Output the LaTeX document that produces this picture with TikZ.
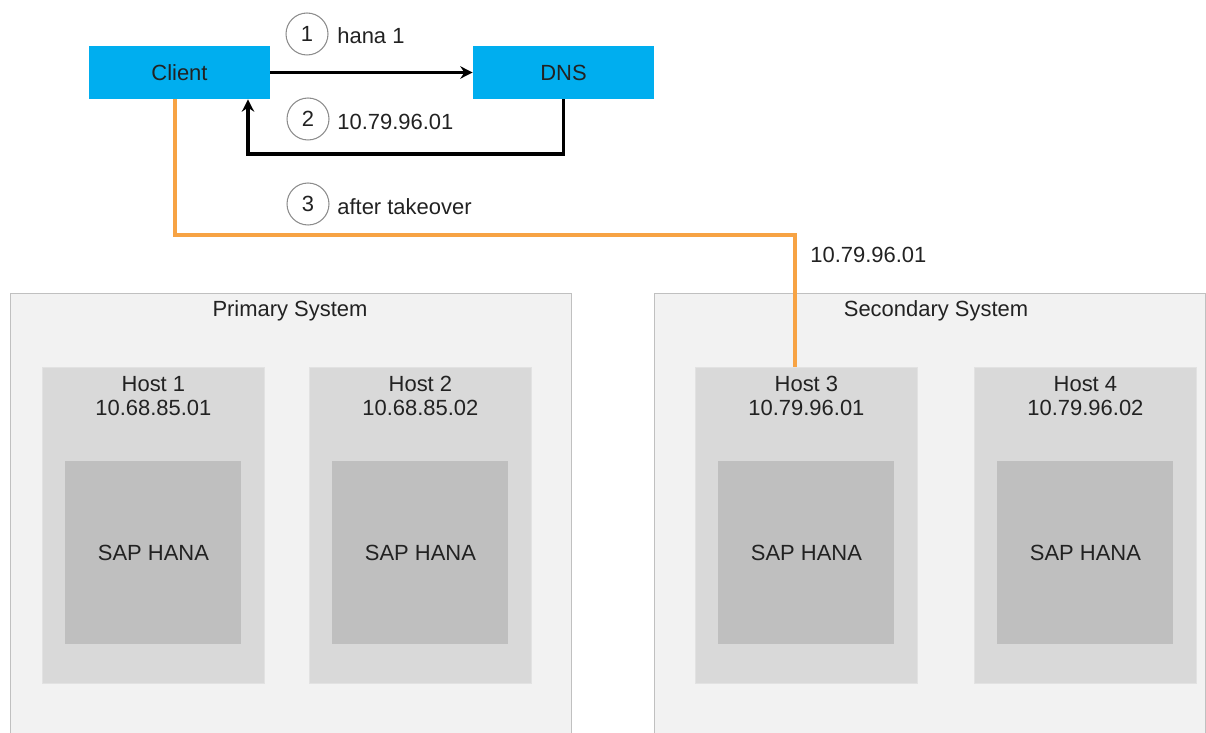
\documentclass[tikz,border=0pt]{standalone}
\usepackage{fontspec}
\setmainfont{Liberation Sans}
\usetikzlibrary{arrows.meta,positioning}

\definecolor{sapblue}{RGB}{0,174,239}
\definecolor{sysfill}{RGB}{242,242,242}
\definecolor{sysline}{RGB}{192,192,192}
\definecolor{hostfill}{RGB}{217,217,217}
\definecolor{hostline}{RGB}{226,226,226}
\definecolor{hanafill}{RGB}{191,191,191}
\definecolor{numline}{RGB}{140,140,140}
\definecolor{takeorange}{RGB}{247,163,68}
\definecolor{txt}{RGB}{34,34,34}

\begin{document}
\begin{tikzpicture}[
  x=0.02cm, y=-0.02cm,
  >={Stealth[length=7pt,width=7pt]},
  every node/.style={font=\fontsize{12.5}{13.6}\selectfont,text=txt},
  box/.style={rectangle,fill=sapblue,minimum width=36.2mm,minimum height=10.6mm,inner sep=0pt},
  sys/.style={rectangle,fill=sysfill,draw=sysline,line width=0.6pt,anchor=north west,minimum height=92mm,inner sep=0pt},
  host/.style={rectangle,fill=hostfill,draw=hostline,line width=0.5pt,anchor=north west,minimum width=44.4mm,minimum height=63.2mm,inner sep=0pt},
  hana/.style={rectangle,fill=hanafill,minimum width=35.2mm,minimum height=36.6mm,inner sep=0pt},
  num/.style={circle,draw=numline,line width=0.6pt,minimum size=8.4mm,inner sep=0pt},
  lbl/.style={anchor=west,inner sep=0pt},
  arc/.style={->,line width=2pt},
  takeover/.style={line width=2pt,draw=takeorange}
]
\useasboundingbox (0,0) rectangle (1206,733);
\clip (0,0) rectangle (1206,733);

\node[sys,minimum width=112.2mm] (prim) at (10,293) {};
\node[sys,minimum width=110.2mm] (sec) at (654,293) {};
\node at (290,311) {Primary System};
\node at (936,311) {Secondary System};

\node[host] (host1) at (42,367) {};
\node[host] (host2) at (309,367) {};
\node[host] (host3) at (695,367) {};
\node[host] (host4) at (974,367) {};
\node[align=center,below=0.6mm of host1.north] (t1) {Host 1\\10.68.85.01};
\node[align=center,below=0.6mm of host2.north] (t2) {Host 2\\10.68.85.02};
\node[align=center,below=0.6mm of host3.north] (t3) {Host 3\\10.79.96.01};
\node[align=center,below=0.6mm of host4.north] (t4) {Host 4\\10.79.96.02};
\node[hana,below=18.8mm of host1.north] (hana1) {SAP HANA};
\node[hana,below=18.8mm of host2.north] (hana2) {SAP HANA};
\node[hana,below=18.8mm of host3.north] (hana3) {SAP HANA};
\node[hana,below=18.8mm of host4.north] (hana4) {SAP HANA};

\node[box] (client) at (179.5,72.5) {Client};
\node[box] (dns) at (563.5,72.5) {DNS};

\node[num] (n1) at (307,34) {1};
\node[num] (n2) at (308,119) {2};
\node[num] (n3) at (308,204) {3};
\node[lbl] (l1) at (337,36) {hana 1};
\node[lbl] (l2) at (337,122) {10.79.96.01};
\node[lbl] (l3) at (337,207) {after takeover};
\node[lbl] (ip) at (810,255) {10.79.96.01};

\coordinate (ret) at (248,154);
\coordinate (down) at (175,235);
\coordinate (turn) at (795,235);

\draw[arc] (client.east) -- (dns.west);
\draw[arc] (dns.south) |- (ret) -- (ret |- client.south);
\draw[takeover] (down |- client.south) -- (down) -- (turn) -- (turn |- host3.north);
\end{tikzpicture}
\end{document}
